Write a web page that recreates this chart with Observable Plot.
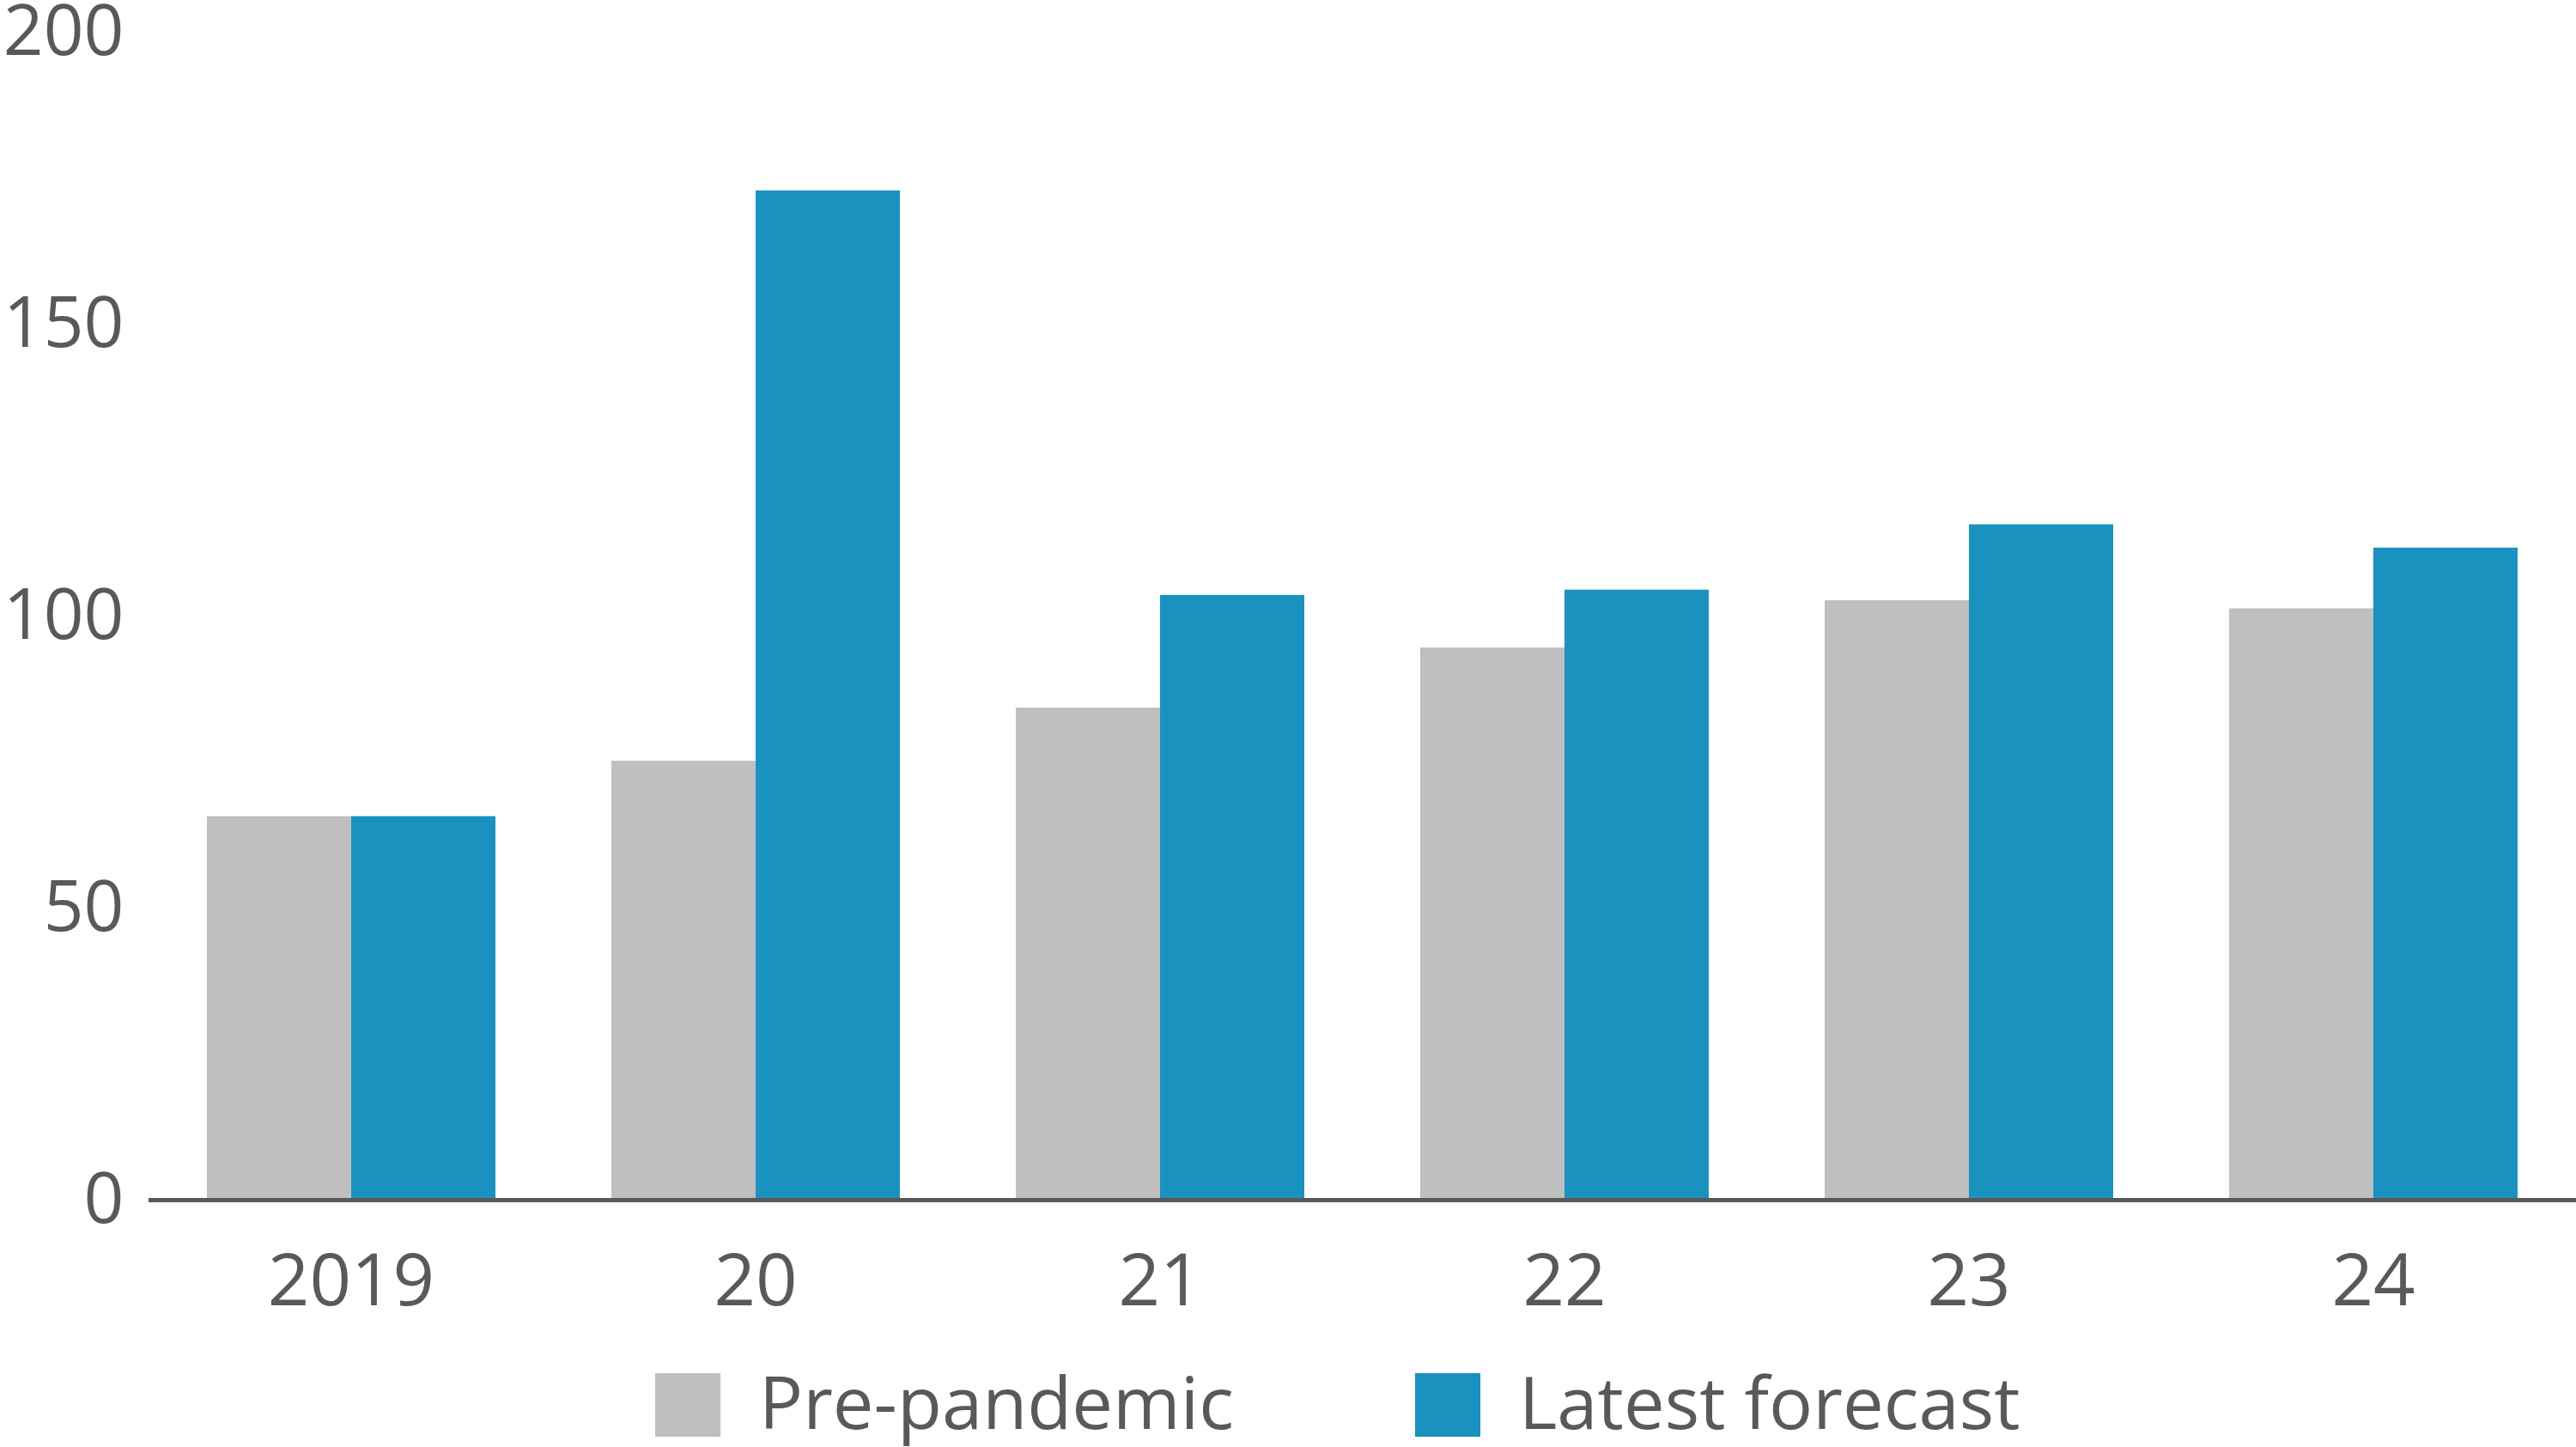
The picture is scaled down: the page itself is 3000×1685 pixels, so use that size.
<!DOCTYPE html>
<html>
<head>
<meta charset="utf-8">
<script src="https://cdn.jsdelivr.net/npm/d3@7"></script>
<script src="https://cdn.jsdelivr.net/npm/@observablehq/plot@0.6"></script>
<style>
  html, body { margin: 0; padding: 0; background: #ffffff; }
  #wrap { position: relative; width: 3000px; height: 1685px; font-family: "Open Sans", sans-serif; color: #595959; overflow: hidden; }
  #chart { position: absolute; left: 0; top: 0; }
  .legend-item { position: absolute; top: 1599px; display: flex; align-items: center; height: 74px; }
  .swatch { width: 76px; height: 74px; margin-right: 45px; }
  .legend-label { font-size: 85px; line-height: 1; white-space: nowrap; position: relative; top: -5px; }
</style>
</head>
<body>
<div id="wrap">
  <div id="chart"></div>
  <div id="legend"></div>
</div>
<script>
const years = ["2019", "20", "21", "22", "23", "24"];
const seriesNames = ["Pre-pandemic", "Latest forecast"];
const prePandemic = [65.7, 75.2, 84.3, 94.6, 102.7, 101.3];
const latestForecast = [65.7, 172.9, 103.6, 104.5, 115.7, 111.7];
const yTicks = [0, 50, 100, 150, 200];
const colors = ["#bfbfbf", "#1a92c0"];

const data = [];
years.forEach((yr, i) => {
  data.push({year: yr, series: seriesNames[0], value: prePandemic[i]});
  data.push({year: yr, series: seriesNames[1], value: latestForecast[i]});
});

const chart = Plot.plot({
  width: 3000,
  height: 1545,
  marginLeft: 172,
  marginRight: 0,
  marginTop: 37.5,
  marginBottom: 148,
  style: {fontFamily: "'Open Sans', sans-serif", fontSize: "85px", color: "#595959", background: "#ffffff", overflow: "visible"},
  fx: {domain: years, paddingInner: 0.284, paddingOuter: 0.142, label: null, axis: "bottom", tickSize: 0, tickPadding: 62},
  x: {domain: seriesNames, padding: 0, axis: null},
  y: {domain: [0, 200], label: null},
  color: {domain: seriesNames, range: colors},
  marks: [
    Plot.axisY({ticks: yTicks, tickSize: 0, tickPadding: 96, fontSize: 82, label: null}),
    Plot.barY(data, {fx: "year", x: "series", y: "value", fill: "series"}),
    Plot.frame({anchor: "bottom", facet: "super", stroke: "#595959", strokeWidth: 5, insetLeft: -65, insetRight: -68})
  ]
});
document.getElementById("chart").appendChild(chart);

const legend = document.getElementById("legend");
const legendLefts = [763, 1648];
seriesNames.forEach((name, i) => {
  const item = document.createElement("div");
  item.className = "legend-item";
  item.style.left = legendLefts[i] + "px";
  const sw = document.createElement("div");
  sw.className = "swatch";
  sw.style.background = colors[i];
  const lb = document.createElement("span");
  lb.className = "legend-label";
  lb.textContent = name;
  item.appendChild(sw);
  item.appendChild(lb);
  legend.appendChild(item);
});
</script>
</body>
</html>
